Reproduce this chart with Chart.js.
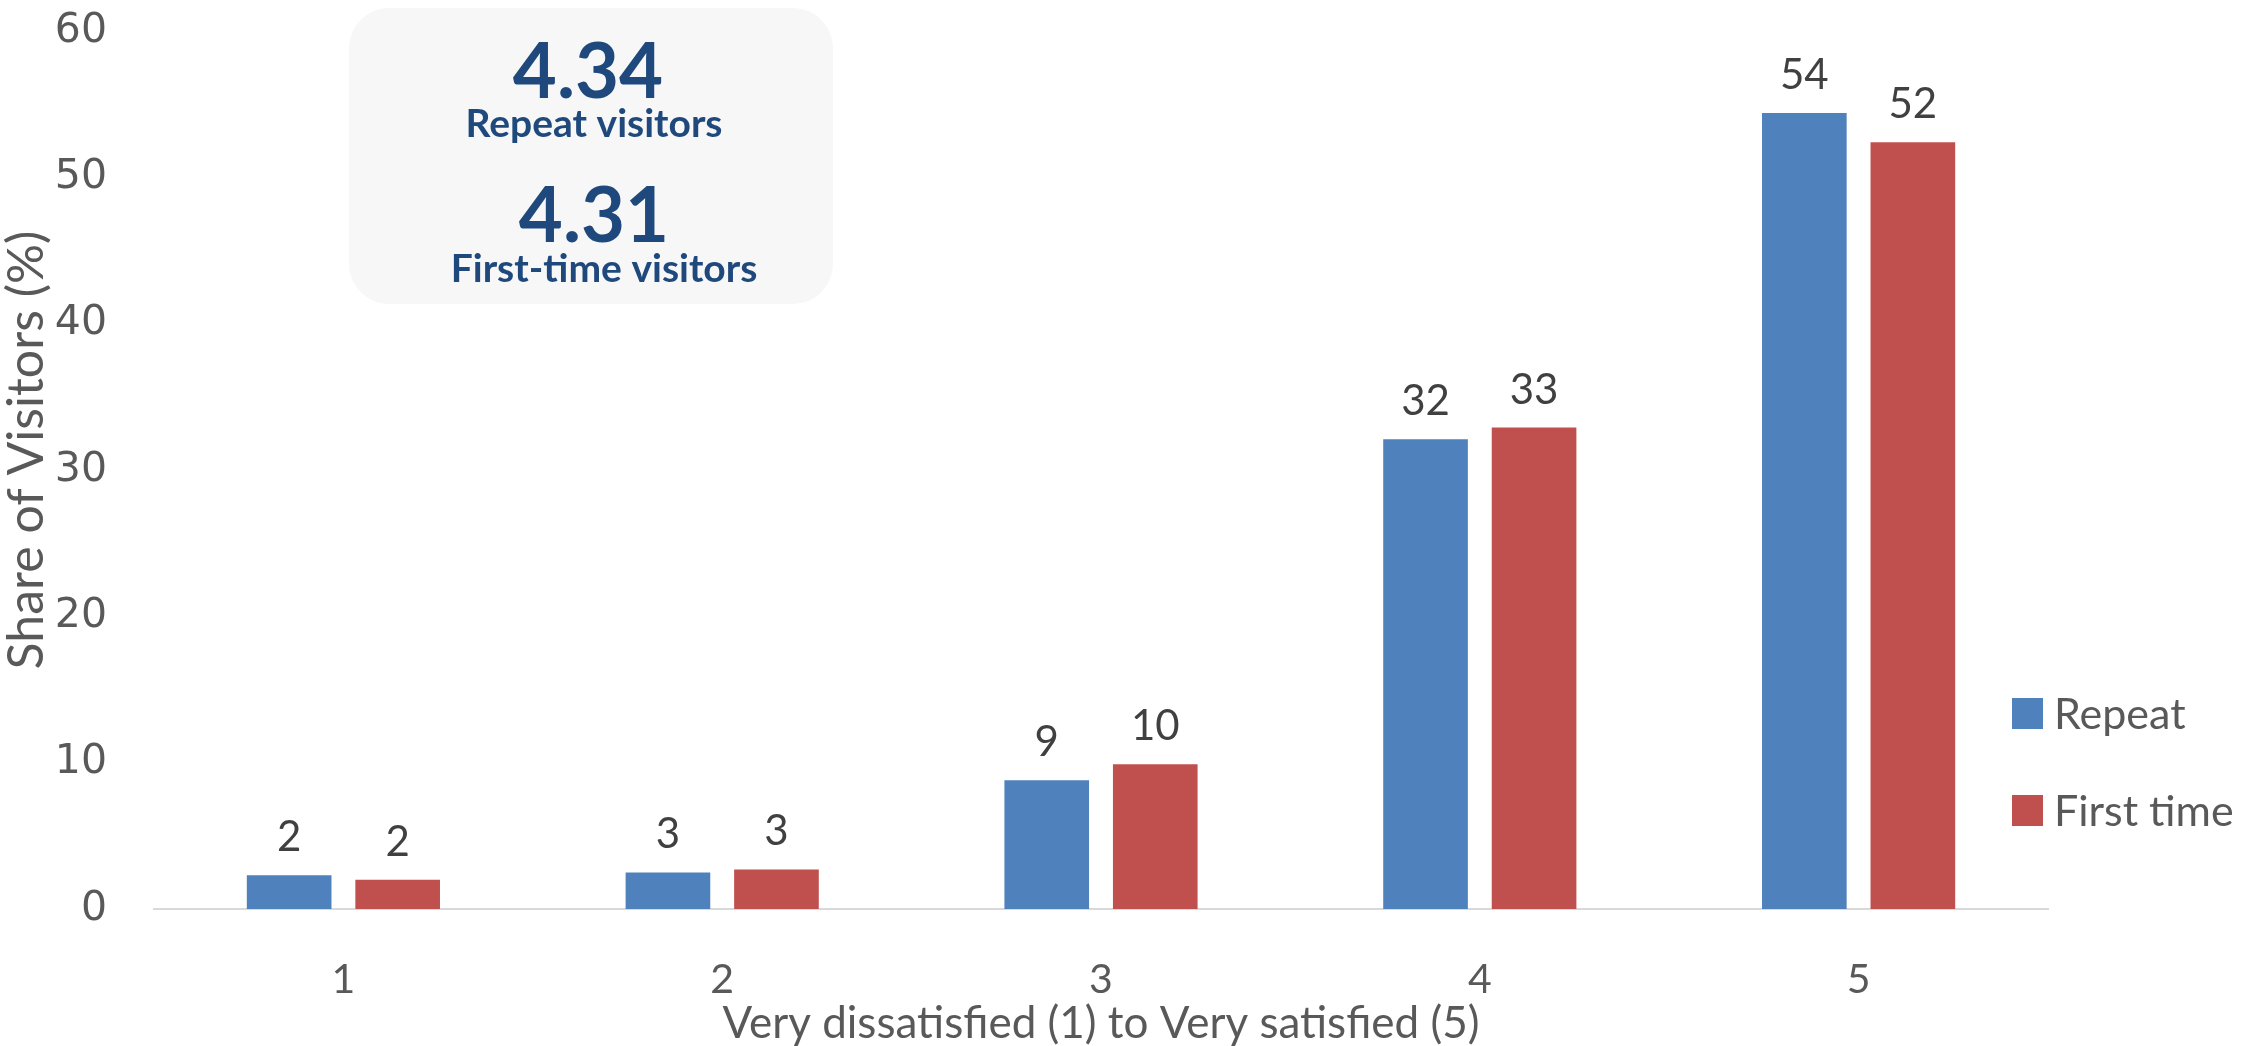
<!DOCTYPE html>
<html>
<head>
<meta charset="utf-8">
<script src="https://cdn.jsdelivr.net/npm/chart.js@4.4.0/dist/chart.umd.min.js"></script>
<style>
  html, body { margin: 0; padding: 0; background: #fff; }
  #wrap { width: 2241px; height: 1046px; position: relative; }
</style>
</head>
<body>
<div id="wrap"><canvas id="satChart"></canvas></div>
<script>
// satisfaction score categories
let scores = ["1", "2", "3", "4", "5"];

// share of visitors per score (%)
let repeatShare = [2.3, 2.5, 8.8, 32.1, 54.4];
let firstShare = [2.0, 2.7, 9.9, 32.9, 52.4];

let seriesNames = ["Repeat", "First time"];
let seriesColors = ["#4f81bd", "#c0504d"];

// mean scores shown in the summary box
let meanScores = ["4.34", "4.31"];
let meanNames = ["Repeat visitors", "First-time visitors"];

let yTitle = "Share of Visitors (%)";

// value labels on top of each bar
const barLabels = {
    id: 'barLabels',
    afterDatasetsDraw(chart) {
        let c = chart.ctx;
        c.save();
        c.font = '42px Lato';
        c.fillStyle = '#404040';
        c.textAlign = 'center';
        c.textBaseline = 'alphabetic';
        chart.data.datasets.forEach((ds, i) => {
            chart.getDatasetMeta(i).data.forEach((bar, j) => {
                c.fillText(Math.round(ds.data[j]), bar.x, bar.y - 24);
            });
        });
        c.restore();
    }
};

// legend on the right side
const sideLegend = {
    id: 'sideLegend',
    afterDraw(chart) {
        let c = chart.ctx;
        let rows = [713, 810];
        c.save();
        c.font = '43px Lato';
        c.textBaseline = 'middle';
        c.textAlign = 'left';
        chart.data.datasets.forEach((ds, i) => {
            c.fillStyle = ds.backgroundColor;
            c.fillRect(2012, rows[i] - 15, 31, 31);
            c.fillStyle = '#595959';
            c.fillText(ds.label, 2054, rows[i] + 2);
        });
        c.restore();
    }
};

// rotated y axis title, sitting a bit above the plot middle
const sideTitle = {
    id: 'sideTitle',
    afterDraw(chart) {
        let c = chart.ctx;
        c.save();
        c.translate(27, 450);
        c.rotate(-Math.PI / 2);
        c.font = '50px Lato';
        c.fillStyle = '#595959';
        c.textAlign = 'center';
        c.textBaseline = 'middle';
        c.fillText(yTitle, 0, 0);
        c.restore();
    }
};

// rounded box with the mean scores
const meanBox = {
    id: 'meanBox',
    beforeDatasetsDraw(chart) {
        let c = chart.ctx;
        c.save();
        c.fillStyle = '#f7f7f7';
        c.beginPath();
        c.roundRect(349, 8, 484, 296, 40);
        c.fill();
        c.fillStyle = '#1f497d';
        c.textAlign = 'center';
        c.textBaseline = 'alphabetic';
        c.font = 'bold 76px Lato';
        c.fillText(meanScores[0], 588, 98);
        c.fillText(meanScores[1], 594, 242);
        c.font = 'bold 39px Lato';
        c.fillText(meanNames[0], 594, 137);
        c.fillText(meanNames[1], 604, 282);
        c.restore();
    }
};

let ctx = document.getElementById('satChart').getContext('2d');
let chart = new Chart(ctx, {
    type: 'bar',
    data: {
        labels: scores,
        datasets: [{
            label: seriesNames[0],
            backgroundColor: seriesColors[0],
            data: repeatShare,
        }, {
            label: seriesNames[1],
            backgroundColor: seriesColors[1],
            data: firstShare,
        }]
    },
    options: {
        responsive: true,
        maintainAspectRatio: false,
        animation: false,
        layout: { padding: { top: 31, right: 193, left: 0, bottom: 0 } },
        datasets: {
            bar: { categoryPercentage: 0.573, barPercentage: 0.78 }
        },
        plugins: {
            legend: { display: false },
            tooltip: { enabled: false }
        },
        scales: {
            x: {
                grid: { display: false, drawTicks: false },
                border: { display: true, color: '#d9d9d9', width: 2 },
                ticks: { color: '#595959', font: { family: 'Lato', size: 41 }, padding: 46 },
                title: {
                    display: true,
                    text: 'Very dissatisfied (1) to Very satisfied (5)',
                    color: '#595959',
                    font: { family: 'Lato', size: 44, lineHeight: 1 },
                    padding: 0
                },
                afterFit(scale) { scale.height = 137; }
            },
            y: {
                min: 0,
                max: 60,
                grid: { display: false, drawTicks: false },
                border: { display: false },
                ticks: { stepSize: 10, color: '#595959', font: { family: 'DejaVu Sans', size: 41 }, padding: 47 },
                afterFit(scale) {
                    scale.width = 154;
                    scale.paddingTop = 0;
                    scale.paddingBottom = 0;
                }
            }
        }
    },
    plugins: [meanBox, barLabels, sideLegend, sideTitle]
});
</script>
</body>
</html>
